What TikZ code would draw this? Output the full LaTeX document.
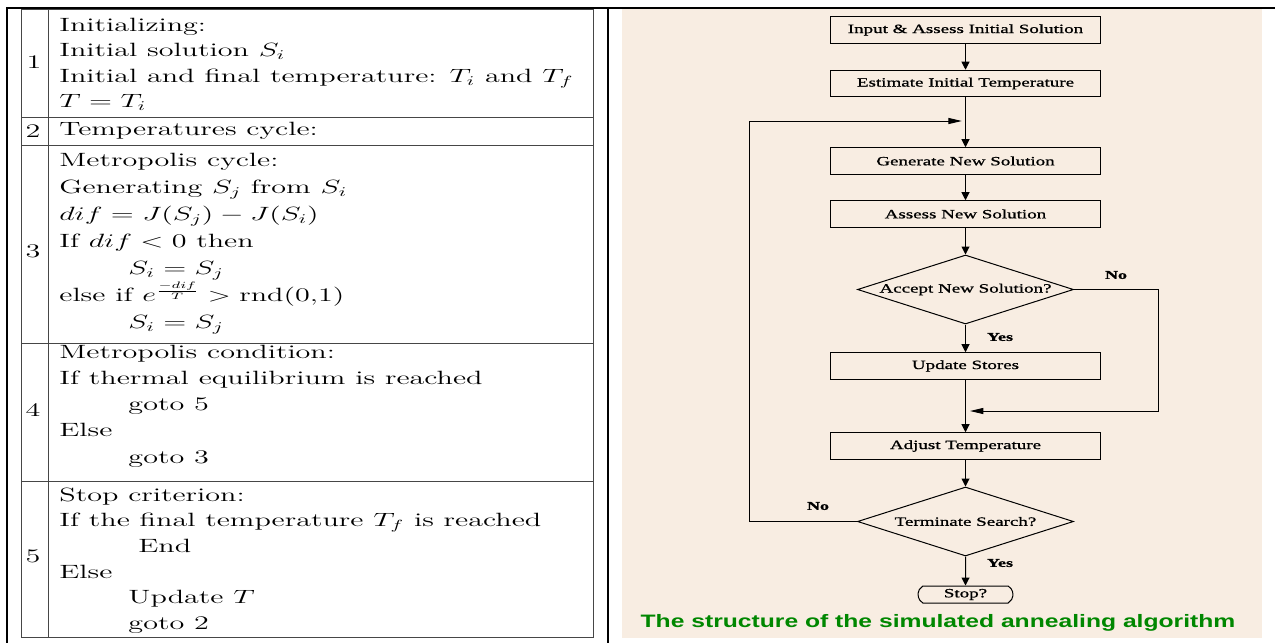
\documentclass[tikz,border=0pt]{standalone}
\usepackage{fontspec}
\usepackage{tikz}
\usetikzlibrary{arrows.meta,shapes.geometric,shapes.misc}
\newfontfamily\flowfont[FakeStretch=1.5,FakeBold=1]{Liberation Serif}
\newfontfamily\capfont[FakeStretch=1.37]{Liberation Sans}
\definecolor{Peach}{RGB}{248,237,226}
\definecolor{CapGreen}{RGB}{0,135,0}
\definecolor{Rule}{RGB}{70,70,70}

\begin{document}
\begin{tikzpicture}[x=0.75pt,y=-0.75pt,
  textcell/.style={anchor=north west,align=left,inner sep=0pt,xscale=1.57,font=\fontsize{14.4}{19.2}\selectfont},
  numcell/.style={inner sep=0pt,xscale=1.57,font=\fontsize{14.4}{19.2}\selectfont},
  tablerule/.style={Rule,line width=0.75pt},
  blackrule/.style={black,line width=1.6pt},
  flowbox/.style={draw,line width=0.75pt,minimum width=202.5pt,minimum height=19.9pt,inner sep=0pt,font=\flowfont\fontsize{9.5}{11}\selectfont},
  flowdec/.style={draw,diamond,shape aspect=3.13,line width=0.75pt,minimum width=162pt,minimum height=51.75pt,inner sep=0pt,font=\flowfont\fontsize{9.5}{11}\selectfont},
  flowend/.style={draw,rounded rectangle,rounded rectangle arc length=120,line width=0.75pt,minimum width=71.25pt,minimum height=12.75pt,inner sep=0pt,font=\flowfont\fontsize{9.5}{11}\selectfont},
  flowlab/.style={inner sep=0pt,font=\flowfont\bfseries\fontsize{9}{11}\selectfont},
  varrow/.style={-{Triangle[length=6pt,width=6pt]},line width=0.75pt},
  harrow/.style={-{Triangle[length=10pt,width=4.5pt]},line width=0.75pt}]
  \useasboundingbox (0,0) rectangle (1275,643);
  \fill[white] (0,0) rectangle (1275,643);
  \fill[Peach] (622,9) rectangle (1262,638);

  \draw[tablerule] (21,9) rectangle (593,637);
  \draw[tablerule] (48,9) -- (48,637);
  \foreach \y in {117,145,343,481}
    \draw[tablerule] (21,\y) -- (593,\y);
  \draw[blackrule] (6,8) -- (1275,8);
  \draw[blackrule] (7,8) -- (7,643);
  \draw[blackrule] (608,8) -- (608,643);

  \node[numcell] (n1) at (34,62) {1};
  \node[numcell] (n2) at (33,131) {2};
  \node[numcell] (n3) at (33,251) {3};
  \node[numcell] (n4) at (33,410) {4};
  \node[numcell] (n5) at (33,556) {5};

  \node[textcell] (r1) at (59,17.5) {Initializing:\\
    Initial solution $S_i$\\
    Initial and final temperature: $T_i$ and $T_f$\\
    $T = T_i$};
  \node[textcell] (r2) at (59,121.7) {Temperatures cycle:};
  \node[textcell,font=\fontsize{14.4}{20.3}\selectfont] (r3) at (59,152.5) {Metropolis cycle:\\
    Generating $S_j$ from $S_i$\\
    $dif = J(S_j) - J(S_i)$\\
    If $dif < 0$ then\\
    \hspace*{33pt}$S_i = S_j$\\
    else if $e^{\frac{-dif}{T}} > \mathrm{rnd}(0{,}1)$\\
    \hspace*{33pt}$S_i = S_j$};
  \node[textcell,font=\fontsize{14.4}{19.6}\selectfont] (r4) at (59,345) {Metropolis condition:\\
    If thermal equilibrium is reached\\
    \hspace*{33pt}goto 5\\
    Else\\
    \hspace*{33pt}goto 3};
  \node[textcell] (r5) at (59,487.5) {Stop criterion:\\
    If the final temperature $T_f$ is reached\\
    \hspace*{37.7pt}End\\
    Else\\
    \hspace*{33pt}Update $T$\\
    \hspace*{33pt}goto 2};

  \node[flowbox] (input) at (965.5,30) {Input \& Assess Initial Solution};
  \node[flowbox] (estimate) at (965.5,83.5) {Estimate Initial Temperature};
  \node[flowbox] (generate) at (965.5,161) {Generate New Solution};
  \node[flowbox] (assess) at (965.5,214) {Assess New Solution};
  \node[flowdec] (accept) at (965.5,289.5) {Accept New Solution?};
  \node[flowbox] (update) at (965.5,366) {Update Stores};
  \node[flowbox] (adjust) at (965.5,446) {Adjust Temperature};
  \node[flowdec] (terminate) at (965.5,521.5) {Terminate Search?};
  \node[flowend] (stop) at (965.5,594.5) {Stop?};

  \node[flowlab] (noA) at (1116,275) {No};
  \node[flowlab] (yesA) at (1000,337) {Yes};
  \node[flowlab] (noB) at (818,506) {No};
  \node[flowlab] (yesB) at (1000,563) {Yes};

  \coordinate (loopleft) at (749,121);
  \coordinate (loopjoin) at (961.8,121);
  \coordinate (nobottom) at (1158.5,411);
  \coordinate (nojoin) at (970,411);

  \draw[varrow] (input) -- (estimate);
  \draw[varrow] (estimate) -- (generate);
  \draw[varrow] (generate) -- (assess);
  \draw[varrow] (assess) -- (accept);
  \draw[varrow] (accept) -- (update);
  \draw[varrow] (update) -- (adjust);
  \draw[varrow] (adjust) -- (terminate);
  \draw[varrow] (terminate) -- (stop);
  \draw[harrow] (accept.east) -| (nobottom) -- (nojoin);
  \draw[harrow] (terminate.west) -| (loopleft) -- (loopjoin);

  \node[font=\capfont\bfseries\fontsize{13.5}{15}\selectfont,text=CapGreen,inner sep=0pt] (caption) at (938,623)
    {The structure of the simulated annealing algorithm};
\end{tikzpicture}
\end{document}
